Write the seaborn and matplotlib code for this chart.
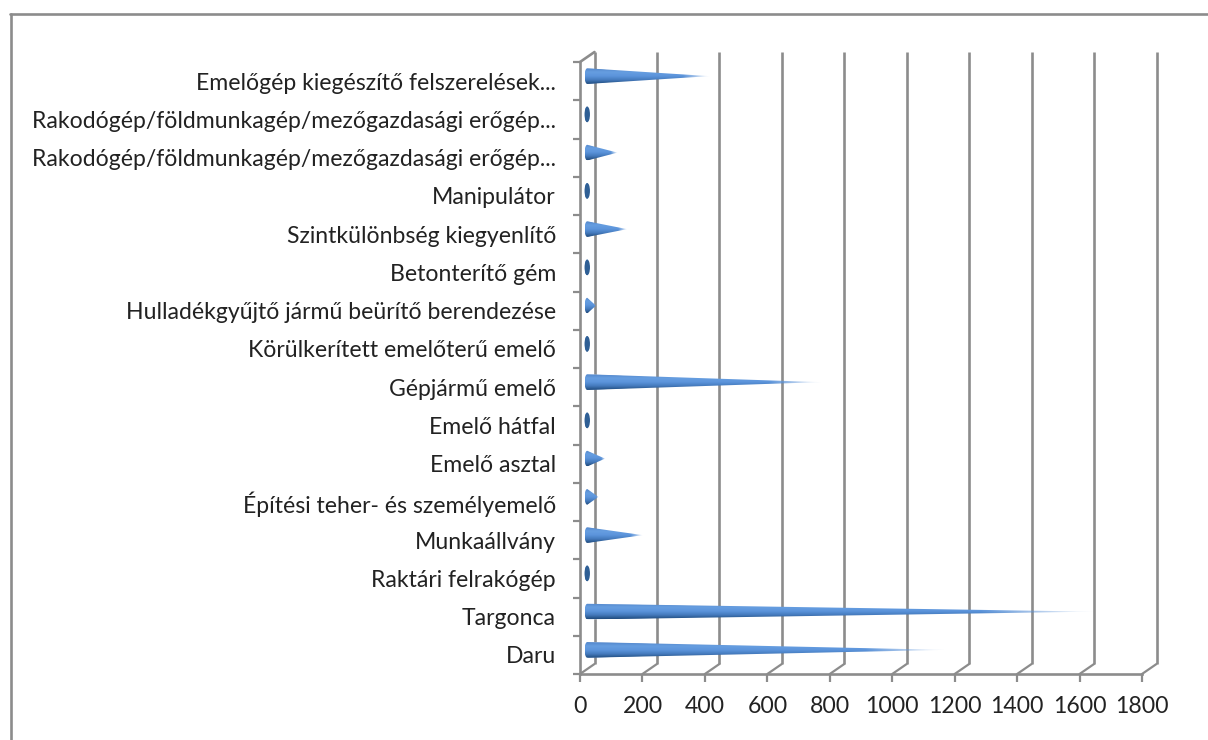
import numpy as np
import pandas as pd
import matplotlib
matplotlib.use("Agg")
import matplotlib.pyplot as plt
from matplotlib.lines import Line2D
from matplotlib.patches import Polygon, Ellipse
import seaborn as sns

categories = [
    "Emelőgép kiegészítő felszerelések...",
    "Rakodógép/földmunkagép/mezőgazdasági erőgép...",
    "Rakodógép/földmunkagép/mezőgazdasági erőgép...",
    "Manipulátor",
    "Szintkülönbség kiegyenlítő",
    "Betonterítő gém",
    "Hulladékgyűjtő jármű beürítő berendezése",
    "Körülkerített emelőterű emelő",
    "Gépjármű emelő",
    "Emelő hátfal",
    "Emelő asztal",
    "Építési teher- és személyemelő",
    "Munkaállvány",
    "Raktári felrakógép",
    "Targonca",
    "Daru",
]
values = [392, 5, 97, 5, 128, 8, 28, 6, 748, 8, 57, 36, 178, 6, 1620, 1145]
x_ticks = [0, 200, 400, 600, 800, 1000, 1200, 1400, 1600, 1800]

GREY = "#8c8c8c"
TEXT = "#222222"
W, H = 1208, 740
FS = 16.6
sns.set_style("white")
plt.rcParams["font.family"] = ["Lato", "DejaVu Sans"]

fig = plt.figure(figsize=(W / 100, H / 100), dpi=100)
ax = fig.add_axes([580 / W, 1 - 674 / H, (1142 - 580) / W, (674 - 62) / H])

df = pd.DataFrame({"pos": [f"{i}" for i in range(len(values))], "v": values})
sns.barplot(data=df, y="pos", x="v", orient="h", width=0.41, color="#4f81bd",
            saturation=1, ax=ax, zorder=3)

ax.set_xlim(0, 1800)
ax.set_ylim(len(values) - 0.5, -0.5)
ax.set_xlabel("")
ax.set_ylabel("")

dx = 14.5 / (562 / 1800)
dy = 10 / (612 / len(values))
for v in x_ticks:
    ax.plot([v + dx, v + dx], [len(values) - 0.5 - dy, -0.5 - dy], color=GREY, lw=1.9,
            clip_on=False, zorder=1, solid_capstyle="butt")
    ax.plot([v, v + dx], [len(values) - 0.5, len(values) - 0.5 - dy], color=GREY, lw=1.6,
            clip_on=False, zorder=1)
ax.plot([0, dx], [-0.5, -0.5 - dy], color=GREY, lw=1.9, clip_on=False, zorder=1)

stops = np.array([[0.33, 0.53, 0.80], [0.40, 0.62, 0.88], [0.36, 0.58, 0.86],
                  [0.27, 0.48, 0.74], [0.13, 0.30, 0.50]])
rows = np.linspace(0, 1, 32)
prof = np.stack([np.interp(rows, np.linspace(0, 1, 5), stops[:, c]) for c in range(3)], axis=1)

x0 = dx / 2
shift = dy / 2
half_w = 2.7 / (562 / 1800)
for patch, val in zip(ax.patches, values):
    y = patch.get_y() - shift
    h = patch.get_height()
    patch.set_y(y)
    patch.set_x(x0)
    yc = y + h / 2
    t = np.linspace(np.pi / 2, 3 * np.pi / 2, 24)
    arc = np.column_stack([x0 + half_w * np.cos(t), yc - h / 2 * np.sin(t)])
    cone = np.vstack([arc, [[x0 + val, yc]]])
    clip = Polygon(cone, closed=True, transform=ax.transData)
    patch.set_clip_path(Polygon(np.vstack([arc, [[x0 + val * 0.7, yc]]]), closed=True,
                                transform=ax.transData))
    xs = np.linspace(0, 1, 128)
    alpha = np.clip((1 - xs) / 0.22, 0.12, 1)
    img = np.ones((32, 128, 4))
    img[:, :, :3] = prof[:, None, :]
    img[:, :, 3] = alpha[None, :]
    im = ax.imshow(img, extent=(x0 - half_w, x0 + val, y + h, y), aspect="auto",
                   interpolation="bilinear", zorder=4)
    im.set_clip_path(clip)
    if val < 15:
        ax.add_patch(Ellipse((x0, yc), 2 * half_w, h, facecolor="#2f5f95",
                             edgecolor="none", zorder=5))

ax.set_xlim(0, 1800)
ax.set_ylim(len(values) - 0.5, -0.5)

for s in ["top", "right"]:
    ax.spines[s].set_visible(False)
for s in ["left", "bottom"]:
    ax.spines[s].set_color(GREY)
    ax.spines[s].set_linewidth(1.9)

ax.set_xticks(x_ticks)
ax.set_xticklabels([str(v) for v in x_ticks])
ax.set_yticks(range(len(categories)))
ax.set_yticklabels(categories)
ax.set_yticks(np.arange(-0.5, len(values)), minor=True)
ax.tick_params(axis="x", which="major", bottom=True, length=6, width=1.6, color=GREY,
               pad=9.5, labelsize=FS, labelcolor=TEXT)
ax.tick_params(axis="y", which="major", left=False, length=0, pad=17.3,
               labelsize=FS, labelcolor=TEXT)
ax.tick_params(axis="y", which="minor", left=True, length=5, width=1.6, color=GREY)

fig.add_artist(Line2D([10.5 / W, 10.5 / W], [0, 1 - 13.5 / H], color=GREY, lw=1.9))
fig.add_artist(Line2D([10 / W, 1], [1 - 13.5 / H, 1 - 13.5 / H], color=GREY, lw=1.9))

fig.savefig("out.png", dpi=100)
